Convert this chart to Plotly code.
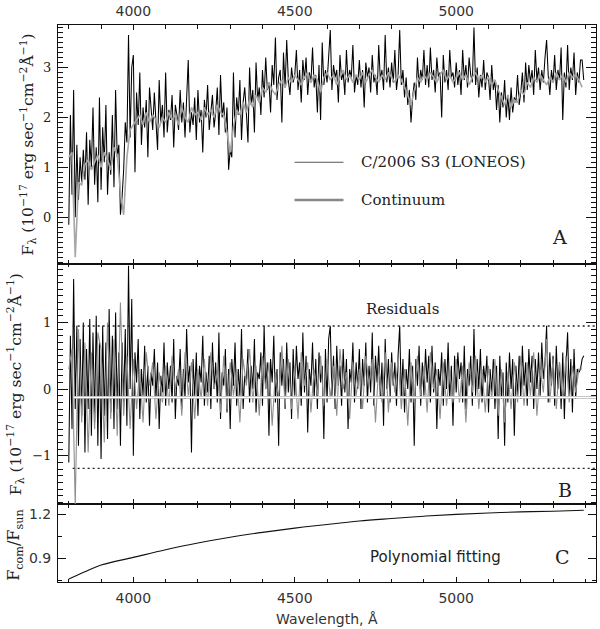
import plotly.graph_objects as go

# ---------------- data ----------------
wl_obs_start, wl_obs_step = 3800, 5
obs_flux = [
    -0.15, 2.05, 0.45, 2.55, 0.00, 1.45, 0.35, 1.20, 0.70, 1.35, 0.75, 1.70, 0.25, 1.55, 1.00, 2.20, 0.65, 1.40, 0.30, 2.40,
    0.55, 1.80, 1.10, 2.25, 0.45, 1.30, 0.85, 2.05, 0.60, 2.55, 1.20, 1.45, 0.05, 0.40, 0.95, 1.90, 1.50, 3.65, 1.60, 3.00,
    3.25, 0.90, 2.50, 1.85, 2.90, 1.45, 2.20, 1.80, 2.35, 1.20, 2.60, 2.05, 1.75, 2.50, 1.95, 1.35, 2.75, 1.90, 2.25, 1.60,
    2.90, 1.70, 2.15, 1.95, 2.45, 1.40, 2.25, 2.05, 1.75, 2.55, 1.90, 2.30, 1.60, 2.45, 3.15, 1.70, 2.10, 1.85, 2.40, 1.55,
    2.55, 1.90, 2.15, 1.30, 2.35, 2.00, 2.65, 1.75, 2.20, 2.45, 1.80, 2.10, 2.60, 1.65, 2.85, 2.00, 2.30, 1.70, 2.20, 0.95,
    1.35, 1.20, 2.90, 1.60, 2.40, 2.05, 2.75, 1.55, 2.30, 2.60, 2.10, 1.50, 3.00, 2.25, 2.55, 1.70, 3.10, 2.35, 2.60, 2.05,
    2.95, 2.40, 3.20, 2.55, 2.70, 2.10, 3.05, 2.65, 3.60, 2.35, 2.80, 2.95, 1.90, 3.30, 2.60, 3.55, 2.75, 2.45, 3.00, 2.70,
    2.85, 3.35, 2.55, 2.95, 2.30, 3.15, 2.75, 3.20, 2.45, 2.90, 2.70, 3.40, 2.60, 2.85, 2.10, 3.05, 1.95, 3.50, 2.65, 2.95,
    2.70, 3.20, 3.75, 2.55, 3.05, 2.80, 2.95, 2.30, 3.25, 2.75, 2.90, 2.45, 3.35, 2.70, 2.95, 2.80, 3.45, 2.50, 2.85, 2.65,
    3.15, 2.60, 2.95, 2.20, 3.10, 2.80, 3.00, 2.50, 3.25, 2.70, 2.85, 2.45, 3.45, 2.75, 2.95, 2.55, 3.65, 2.70, 3.00, 2.60,
    3.10, 2.70, 3.35, 2.55, 2.85, 3.75, 2.65, 2.95, 2.40, 2.80, 2.25, 2.55, 1.90, 2.40, 2.70, 2.35, 3.20, 2.60, 2.95, 2.75,
    3.35, 2.65, 3.05, 2.60, 3.40, 2.75, 2.95, 2.50, 3.20, 2.80, 2.90, 2.00, 3.25, 2.70, 2.95, 2.55, 3.35, 2.80, 2.90, 2.60,
    3.10, 2.65, 2.95, 2.45, 3.35, 2.75, 3.05, 2.60, 3.20, 2.85, 2.70, 3.80, 2.65, 3.00, 2.40, 2.85, 2.60, 3.15, 2.55, 2.90,
    2.80, 2.35, 3.05, 2.55, 2.75, 2.15, 2.65, 1.90, 2.50, 2.20, 2.75, 2.00, 2.45, 1.95, 2.60, 2.10, 2.40, 2.30, 2.85, 2.25,
    2.50, 2.90, 2.30, 3.10, 2.55, 3.05, 2.70, 2.95, 2.45, 3.35, 2.75, 3.00, 2.55, 2.95, 2.70, 3.20, 3.55, 2.85, 2.45, 2.95,
    2.70, 3.25, 2.55, 2.95, 2.75, 3.40, 1.95, 2.90, 2.60, 3.45, 2.55, 3.00, 2.75, 3.30, 2.45, 2.90, 2.70, 3.15, 3.15, 2.75,
]

wl_cont_start, wl_cont_step = 3800, 10
continuum = [
    1.20, 1.30, -0.80, 0.70, 0.65, 1.05, 1.15, 0.95, 1.10, 1.25,
    1.00, 1.30, 1.15, 0.95, 1.40, 1.25, 0.50, 0.05, 1.20, 1.75,
    1.85, 1.95, 2.05, 1.85, 2.10, 1.90, 2.05, 1.95, 1.80, 2.00,
    1.90, 2.10, 1.95, 2.05, 1.85, 2.20, 2.00, 1.90, 2.20, 2.05,
    2.10, 1.95, 2.20, 2.05, 2.15, 2.00, 2.25, 2.10, 2.05, 1.70,
    1.30, 1.80, 2.15, 2.05, 2.30, 2.10, 2.35, 2.20, 2.45, 2.30,
    2.60, 2.50, 2.70, 2.55, 2.45, 2.65, 2.75, 2.60, 2.80, 2.70,
    2.85, 2.75, 2.65, 2.80, 2.90, 2.70, 2.85, 2.75, 2.50, 2.80,
    2.90, 2.75, 2.85, 2.65, 2.80, 2.95, 2.75, 2.85, 2.70, 2.85,
    2.75, 2.90, 2.70, 2.85, 2.95, 2.80, 2.70, 2.85, 2.75, 2.90,
    2.80, 2.70, 2.85, 2.75, 2.60, 2.45, 2.25, 2.55, 2.80, 2.70,
    2.85, 2.75, 2.90, 2.80, 2.70, 2.85, 2.95, 2.75, 2.85, 2.70,
    2.80, 2.90, 2.75, 2.85, 2.65, 2.80, 2.90, 2.75, 2.85, 2.70,
    2.80, 2.65, 2.75, 2.55, 2.40, 2.25, 2.45, 2.20, 2.35, 2.30,
    2.55, 2.45, 2.70, 2.60, 2.80, 2.70, 2.85, 2.75, 2.65, 2.80,
    2.70, 2.90, 2.75, 2.85, 2.70, 2.90, 2.80, 2.85, 2.75, 2.60,
]

resid_black = [
    -1.10, 0.80, -0.60, 1.65, -0.30, 0.95, -0.85, 0.75, -0.40, 1.00, -0.95, 0.60, -0.30, 1.05, -0.70, 0.85, -0.50, 1.10, -0.85, 0.70,
    -1.05, 0.95, -0.40, 0.70, -0.75, 1.20, -0.35, 0.80, -0.60, 1.15, -0.30, 0.55, -0.85, 0.70, -0.20, 0.90, -0.55, 1.85, 0.00, 1.35,
    -1.00, 0.55, 0.10, 0.75, -0.45, 0.30, -0.10, 0.65, -0.20, 0.35, -0.55, 0.25, 0.05, 0.60, -0.15, 0.40, -0.60, 0.20, -0.05, 0.70,
    -0.25, 0.40, 0.00, 0.35, -0.20, 0.75, -0.45, 0.20, 0.05, 0.60, -0.30, 0.30, -0.15, 0.90, 0.10, 0.35, -0.95, 0.45, -0.10, 0.55,
    -0.40, 0.35, 0.10, 0.80, -0.25, 0.25, -0.05, 0.50, -0.30, 0.70, 0.00, 0.40, -0.20, 0.85, -0.45, 0.25, 0.05, 0.60, -0.35, 0.30,
    -0.60, 0.45, 0.05, 0.70, -0.25, 0.30, -0.10, 0.90, -0.30, 0.20, 0.10, 0.60, -0.20, 0.35, 0.00, 0.75, -0.35, 0.25, 0.15, 0.55,
    -0.25, 0.95, 0.00, 0.40, -0.70, 0.45, 0.10, 0.80, -0.20, 0.30, -0.85, 0.55, 0.05, 0.45, -0.30, 0.70, -0.05, 0.40, -0.45, 0.60,
    -0.10, 0.65, 0.15, 0.40, -0.25, 0.85, -0.05, 0.50, -0.65, 0.30, 0.05, 0.70, -0.15, 0.45, -0.30, 0.55, 0.10, 0.35, -0.75, 0.60,
    -0.20, 0.75, 0.95, -0.10, 0.50, -0.30, 0.65, 0.05, 0.35, -0.25, 0.60, -0.05, 0.45, -0.60, 0.30, 0.10, 0.70, -0.20, 0.40, 0.00,
    0.60, -0.30, 0.45, 0.05, 0.70, -0.20, 0.35, -0.05, 0.85, -0.25, 0.50, 0.10, 0.65, -0.15, 0.40, -0.55, 0.75, 0.00, 0.45, -0.20,
    0.55, 0.05, 0.40, -0.25, 0.50, 0.95, -0.15, 0.45, -0.35, 0.30, 0.00, 0.60, -0.20, 0.35, -0.85, 0.45, 0.05, 0.65, -0.25, 0.40,
    -0.10, 0.60, 0.10, 0.50, -0.20, 0.65, -0.05, 0.40, -0.60, 0.30, 0.05, 0.55, -0.25, 0.45, 0.00, 0.70, -0.15, 0.35, -0.55, 0.50,
    -0.05, 0.55, 0.15, 0.40, -0.20, 0.65, -0.30, 0.30, 0.05, 0.50, -0.25, 0.90, -0.10, 0.45, 0.00, 0.60, -0.20, 0.35, 0.10, 0.50,
    -0.35, 0.30, -0.05, 0.45, -0.30, 0.35, -0.75, 0.50, -0.15, 0.25, -0.85, 0.40, -0.20, 0.55, 0.00, 0.45, -0.70, 0.35, -0.10, 0.50,
    -0.15, 0.65, 0.05, 0.40, -0.25, 0.60, 0.10, 0.50, -0.30, 0.45, 0.00, 0.55, -0.10, 0.70, 0.15, 0.40, 0.95, -0.20, 0.55, 0.05,
    0.50, -0.25, 0.65, 0.00, 0.40, -0.30, 0.55, -0.45, 0.35, 0.85, -0.10, 0.45, -0.35, 0.60, -0.15, 0.30, 0.25, 0.30, 0.45, 0.50,
]

resid_gray = [
    0.30, 0.60, -1.75, 0.90, -0.50, 0.70, -0.95, 0.55, -0.60, 0.85,
    0.60, -0.80, 1.00, -0.45, 0.75, -0.70, 1.30, -0.40, 0.50, -0.60,
    0.45, -0.30, 0.30, -0.50, 0.55, 0.05, 0.40, -0.45, 0.25, -0.20,
    0.35, -0.25, 0.50, 0.00, 0.30, -0.40, 0.55, -0.10, 0.40, -0.45,
    0.30, -0.15, 0.45, -0.25, 0.55, 0.00, 0.25, -0.35, 0.50, -0.30,
    0.40, -0.10, 0.30, -0.50, 0.45, 0.05, 0.60, -0.20, 0.35, -0.40,
    0.50, 0.00, 0.40, -0.55, 0.25, -0.15, 0.65, -0.25, 0.45, -0.30,
    0.35, -0.45, 0.55, 0.05, 0.40, -0.35, 0.30, -0.10, 0.50, -0.25,
    0.45, -0.15, 0.35, -0.40, 0.60, 0.00, 0.25, -0.45, 0.40, -0.10,
    0.30, -0.30, 0.50, 0.05, 0.45, -0.50, 0.35, -0.20, 0.55, -0.35,
    0.40, -0.05, 0.45, -0.30, 0.30, -0.55, 0.40, -0.20, 0.50, -0.10,
    0.35, -0.35, 0.55, 0.00, 0.30, -0.45, 0.40, -0.25, 0.25, -0.20,
    0.45, -0.20, 0.35, -0.50, 0.40, -0.05, 0.50, -0.30, 0.30, -0.35,
    0.35, -0.15, 0.45, -0.40, 0.30, -0.50, 0.25, -0.30, 0.40, -0.20,
    0.50, -0.25, 0.40, -0.10, 0.55, -0.40, 0.30, -0.05, 0.75, -0.20,
    0.45, -0.30, 0.40, -0.15, 0.50, -0.20, 0.35, -0.05, 0.30, 0.30,
]

poly_wl = [3800, 3850, 3900, 4000, 4100, 4200, 4300, 4400, 4500, 4600, 4700, 4800, 4900, 5000, 5100, 5200, 5300, 5395]
poly_ratio = [0.761, 0.810, 0.856, 0.908, 0.960, 1.006, 1.045, 1.078, 1.107, 1.132, 1.155, 1.172, 1.188, 1.200, 1.210, 1.217, 1.222, 1.228]

resid_upper = 0.945
resid_lower = -1.19
resid_mean = -0.125

x_ticks_major = [4000, 4500, 5000]

wl_obs = [wl_obs_start + i * wl_obs_step for i in range(len(obs_flux))]
wl_cont = [wl_cont_start + i * wl_cont_step for i in range(len(continuum))]
wl_rb = [wl_obs_start + i * wl_obs_step for i in range(len(resid_black))]
wl_rg = [wl_cont_start + i * wl_cont_step for i in range(len(resid_gray))]

# ---------------- figure ----------------
SERIF = "DejaVu Serif"
SANS = "DejaVu Sans"
XR = [3766.6, 5433]

fig = go.Figure()
# Panel A
fig.add_trace(go.Scatter(x=wl_obs, y=obs_flux, mode="lines", line=dict(color="#000000", width=1.05),
                         xaxis="x3", yaxis="y3", showlegend=False))
fig.add_trace(go.Scatter(x=wl_cont, y=continuum, mode="lines", line=dict(color="#a6a6a6", width=1.6),
                         xaxis="x3", yaxis="y3", showlegend=False))
# Panel B
fig.add_trace(go.Scatter(x=wl_rb, y=resid_black, mode="lines", line=dict(color="#000000", width=1.05),
                         xaxis="x2", yaxis="y2", showlegend=False))
fig.add_trace(go.Scatter(x=wl_rg, y=resid_gray, mode="lines", line=dict(color="#8e8e8e", width=1.1),
                         xaxis="x2", yaxis="y2", showlegend=False))
fig.add_trace(go.Scatter(x=[3815, XR[1]], y=[resid_mean, resid_mean], mode="lines",
                         line=dict(color="#b5b5b5", width=2.6), xaxis="x2", yaxis="y2", showlegend=False))
fig.add_trace(go.Scatter(x=[3815, XR[1]], y=[resid_mean, resid_mean], mode="lines",
                         line=dict(color="#ffffff", width=1.2), xaxis="x2", yaxis="y2", showlegend=False))
for lvl in (resid_upper, resid_lower):
    fig.add_trace(go.Scatter(x=[3812, XR[1]], y=[lvl, lvl], mode="lines",
                             line=dict(color="#222222", width=1.4, dash="2px,3px"),
                             xaxis="x2", yaxis="y2", showlegend=False))
# Panel C
fig.add_trace(go.Scatter(x=poly_wl, y=poly_ratio, mode="lines", line=dict(color="#111111", width=1.1, shape="spline"),
                         xaxis="x", yaxis="y", showlegend=False))

axcol = "#111111"
common_x = dict(range=XR, showgrid=False, zeroline=False, showline=True, mirror="ticks", linecolor=axcol,
                linewidth=1, ticks="inside", tickcolor=axcol, tickvals=x_ticks_major, ticklen=5,
                minor=dict(dtick=100, ticklen=3.5, ticks="inside", tickcolor=axcol))
fig.update_layout(
    width=600, height=629, autosize=False,
    margin=dict(l=58, r=3, t=22, b=47),
    paper_bgcolor="white", plot_bgcolor="white",
    xaxis=dict(**common_x, anchor="y", domain=[0, 1], showticklabels=True,
               tickfont=dict(family=SANS, size=14, color="#333333"), ticklabelstandoff=3),
    xaxis2=dict(**common_x, anchor="y2", matches="x", showticklabels=False),
    xaxis3=dict(**common_x, anchor="y3", matches="x", side="top", showticklabels=True,
                tickfont=dict(family=SANS, size=14, color="#333333"), ticklabelstandoff=2),
    yaxis=dict(domain=[0, 0.1393], range=[0.741, 1.268], anchor="x", showgrid=False, zeroline=False,
               showline=True, mirror="ticks", linecolor=axcol, ticks="inside", tickcolor=axcol, ticklen=8,
               tick0=0.9, dtick=0.3, tickformat=".1f",
               minor=dict(tick0=0.9, dtick=0.15, ticklen=4, ticks="inside", tickcolor=axcol),
               tickfont=dict(family=SANS, size=14, color="#333333"), ticklabelstandoff=3),
    yaxis2=dict(domain=[0.1393, 0.5714], range=[-1.73, 1.88], anchor="x2", showgrid=False, zeroline=False,
                showline=True, mirror="ticks", linecolor=axcol, ticks="inside", tickcolor=axcol, ticklen=10,
                tick0=0, dtick=1,
                minor=dict(dtick=0.1, ticklen=5, ticks="inside", tickcolor=axcol),
                tickfont=dict(family=SERIF, size=13, color="#222222"), ticklabelstandoff=3),
    yaxis3=dict(domain=[0.5714, 1], range=[-0.93, 3.85], anchor="x3", showgrid=False, zeroline=False,
                showline=True, mirror="ticks", linecolor=axcol, ticks="inside", tickcolor=axcol, ticklen=10,
                tick0=0, dtick=1,
                minor=dict(dtick=0.1, ticklen=5, ticks="inside", tickcolor=axcol),
                tickfont=dict(family=SERIF, size=13, color="#222222"), ticklabelstandoff=3),
)

ylab = "F<sub>λ</sub> (10<sup>−17</sup> erg sec<sup>−1</sup>cm<sup>−2</sup>Å<sup>−1</sup>)"
ann = [
    dict(text=ylab, x=-0.0557, y=(582 - 142) / 560, textangle=-90, font=dict(family=SERIF, size=15.5, color="#222")),
    dict(text=ylab, x=-0.0798, y=(582 - 383) / 560, textangle=-90, font=dict(family=SERIF, size=15.5, color="#222")),
    dict(text="F<sub>com</sub>/F<sub>sun</sub>", x=-0.0807, y=(582 - 545) / 560, textangle=-90,
         font=dict(family=SERIF, size=16, color="#222")),
    dict(text="Wavelength, Å", x=0.5, y=(582 - 619) / 560, font=dict(family=SANS, size=14, color="#333")),
    dict(text="C/2006 S3 (LONEOS)", x=(360 - 58) / 539, y=(582 - 160) / 560, xanchor="left",
         font=dict(family=SERIF, size=15, color="#222")),
    dict(text="Continuum", x=(360 - 58) / 539, y=(582 - 198) / 560, xanchor="left",
         font=dict(family=SERIF, size=15, color="#222")),
    dict(text="A", x=(560 - 58) / 539, y=(582 - 235) / 560, font=dict(family=SERIF, size=19, color="#222")),
    dict(text="Residuals", x=(403 - 58) / 539, y=(582 - 308) / 560, font=dict(family=SERIF, size=15, color="#222")),
    dict(text="B", x=(566 - 58) / 539, y=(582 - 490) / 560, font=dict(family=SERIF, size=19, color="#222")),
    dict(text="Polynomial fitting", x=(436 - 58) / 539, y=(582 - 557) / 560, font=dict(family=SANS, size=15, color="#222")),
    dict(text="C", x=(563 - 58) / 539, y=(582 - 557) / 560, font=dict(family=SERIF, size=19, color="#222")),
]
for a in ann:
    a.setdefault("xanchor", "center")
    fig.add_annotation(xref="paper", yref="paper", showarrow=False, yanchor="middle", **a)

# legend sample lines
fig.add_shape(type="line", xref="paper", yref="paper", x0=(295 - 58) / 539, x1=(344 - 58) / 539,
              y0=(582 - 160) / 560, y1=(582 - 160) / 560, line=dict(color="#555555", width=1))
fig.add_shape(type="line", xref="paper", yref="paper", x0=(295 - 58) / 539, x1=(344 - 58) / 539,
              y0=(582 - 198) / 560, y1=(582 - 198) / 560, line=dict(color="#888888", width=2.5))

fig.write_html("out.html", config={"displayModeBar": False},
               post_script="document.body.style.margin='0px';document.body.style.padding='0px';")
